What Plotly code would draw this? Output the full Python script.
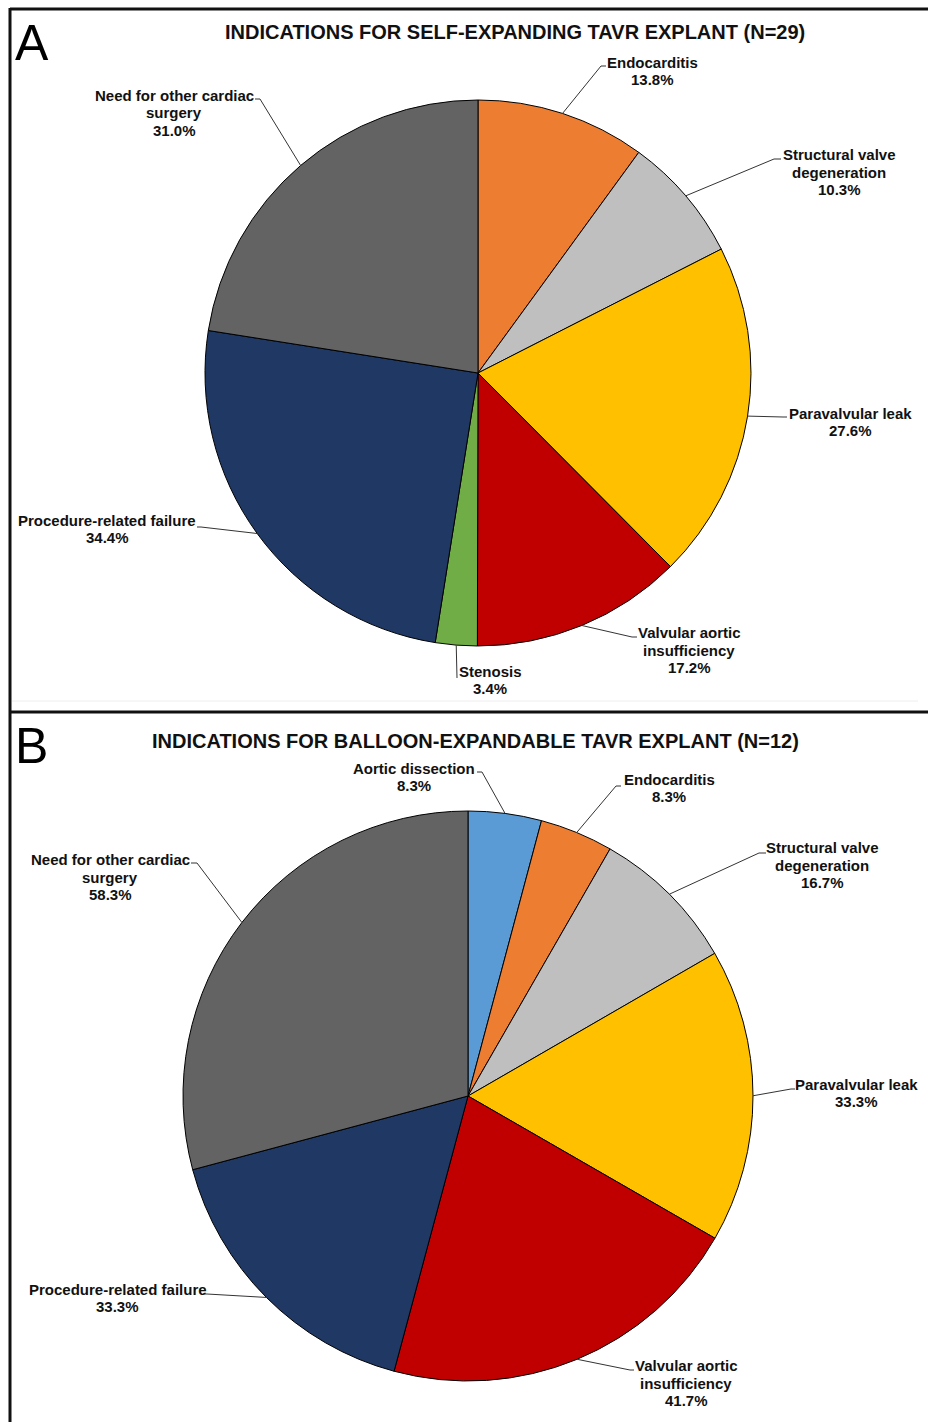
import math
import plotly.graph_objects as go

W, H = 928, 1422

# ---- data -------------------------------------------------------------
self_exp_labels = ["Endocarditis", "Structural valve degeneration", "Paravalvular leak",
                   "Valvular aortic insufficiency", "Stenosis", "Procedure-related failure",
                   "Need for other cardiac surgery"]
self_exp_values = [13.8, 10.3, 27.6, 17.2, 3.4, 34.4, 31.0]

balloon_labels = ["Aortic dissection", "Endocarditis", "Structural valve degeneration",
                  "Paravalvular leak", "Valvular aortic insufficiency",
                  "Procedure-related failure", "Need for other cardiac surgery"]
balloon_values = [8.3, 8.3, 16.7, 33.3, 41.7, 33.3, 58.3]

# ---- styling ----------------------------------------------------------
colors = {
    "Aortic dissection": "#5B9BD5",
    "Endocarditis": "#ED7D31",
    "Structural valve degeneration": "#BFBFBF",
    "Paravalvular leak": "#FFC000",
    "Valvular aortic insufficiency": "#C00000",
    "Stenosis": "#70AD47",
    "Procedure-related failure": "#203864",
    "Need for other cardiac surgery": "#636363",
}
wrapped = {
    "Structural valve degeneration": ["Structural valve", "degeneration"],
    "Valvular aortic insufficiency": ["Valvular aortic", "insufficiency"],
    "Need for other cardiac surgery": ["Need for other cardiac", "surgery"],
}
FONT = "Liberation Sans, Arial, sans-serif"
TXT = "#111111"
LABEL_SIZE = 15
LINE_GAP = 17.3

# label placement (pixels): text block centre, leader elbow, leader stub end
place_a = {
    "Endocarditis": dict(text=(652, 71), elbow=(601, 66), end=(606, 66)),
    "Structural valve degeneration": dict(text=(839, 172), elbow=(774, 159), end=(781, 159)),
    "Paravalvular leak": dict(text=(850, 422), elbow=(783, 417), end=(787, 417)),
    "Valvular aortic insufficiency": dict(text=(689, 650), elbow=(632, 637), end=(637, 637)),
    "Stenosis": dict(text=(490, 680), elbow=(457, 678), end=(457, 678)),
    "Procedure-related failure": dict(text=(107, 529), elbow=(201, 527), end=(197, 527)),
    "Need for other cardiac surgery": dict(text=(174, 113), elbow=(260, 99), end=(255, 99)),
}
place_b = {
    "Aortic dissection": dict(text=(414, 777), elbow=(482, 772), end=(477, 772)),
    "Endocarditis": dict(text=(669, 788), elbow=(616, 786), end=(621, 786)),
    "Structural valve degeneration": dict(text=(822, 865), elbow=(759, 853), end=(766, 853)),
    "Paravalvular leak": dict(text=(856, 1093), elbow=(791, 1089), end=(795, 1089)),
    "Valvular aortic insufficiency": dict(text=(686, 1383), elbow=(630, 1370), end=(634, 1370)),
    "Procedure-related failure": dict(text=(118, 1298), elbow=(207, 1294), end=(203, 1294)),
    "Need for other cardiac surgery": dict(text=(110, 877), elbow=(197, 863), end=(191, 863)),
}

panels = [
    dict(labels=self_exp_labels, values=self_exp_values, center=(478, 373), r=273,
         place=place_a, title="INDICATIONS FOR SELF-EXPANDING TAVR EXPLANT (N=29)",
         title_pos=(515, 32), letter="A", letter_pos=(13, 43)),
    dict(labels=balloon_labels, values=balloon_values, center=(468, 1096), r=285,
         place=place_b, title="INDICATIONS FOR BALLOON-EXPANDABLE TAVR EXPLANT (N=12)",
         title_pos=(475, 741), letter="B", letter_pos=(13, 746)),
]


def px(x):
    return x / W


def py(y):
    return 1 - y / H


fig = go.Figure()
shapes = []
annotations = []

for p in panels:
    cx, cy = p["center"]
    r = p["r"]
    fig.add_trace(go.Pie(
        labels=p["labels"], values=p["values"], sort=False, direction="clockwise",
        rotation=0, textinfo="none", hoverinfo="label+value",
        marker=dict(colors=[colors[l] for l in p["labels"]],
                    line=dict(color="#000000", width=1)),
        domain=dict(x=[px(cx - r), px(cx + r)], y=[py(cy + r), py(cy - r)]),
        showlegend=False,
    ))

    total = sum(p["values"])
    start = 0.0
    for lab, val in zip(p["labels"], p["values"]):
        span = val / total * 360.0
        mid = math.radians(start + span / 2)
        start += span
        ax = cx + r * math.sin(mid)
        ay = cy - r * math.cos(mid)
        pl = p["place"][lab]
        ex, ey = pl["elbow"]
        sx, sy = pl["end"]
        shapes.append(dict(
            type="path", xref="paper", yref="paper",
            path=f"M {px(ax)} {py(ay)} L {px(ex)} {py(ey)} L {px(sx)} {py(sy)}",
            line=dict(color="#333333", width=1),
        ))
        lines = wrapped.get(lab, [lab]) + [f"{val:.1f}%"]
        tx, ty = pl["text"]
        n = len(lines)
        for i, line in enumerate(lines):
            annotations.append(dict(
                x=px(tx), y=py(ty + (i - (n - 1) / 2) * LINE_GAP),
                xref="paper", yref="paper", text=f"<b>{line}</b>",
                showarrow=False, xanchor="center", yanchor="middle",
                font=dict(family=FONT, size=LABEL_SIZE, color=TXT),
            ))

    tx, ty = p["title_pos"]
    annotations.append(dict(
        x=px(tx), y=py(ty), xref="paper", yref="paper", text=f"<b>{p['title']}</b>",
        showarrow=False, xanchor="center", yanchor="middle",
        font=dict(family=FONT, size=20, color=TXT),
    ))
    lx, ly = p["letter_pos"]
    annotations.append(dict(
        x=px(lx), y=py(ly), xref="paper", yref="paper", text=p["letter"],
        showarrow=False, xanchor="left", yanchor="middle",
        font=dict(family=FONT, size=50, color="#000000"),
    ))

# panel frame
frame = [
    ((10, 9), (W, 9), 3),
    ((10, 8), (10, H), 3),
    ((10, 712), (W, 712), 3),
]
for (x0, y0), (x1, y1), w in frame:
    shapes.append(dict(type="line", xref="paper", yref="paper",
                       x0=px(x0), y0=py(y0), x1=px(x1), y1=py(y1),
                       line=dict(color="#111111", width=w)))
shapes.append(dict(type="line", xref="paper", yref="paper",
                   x0=px(12), y0=py(701), x1=px(918), y1=py(701),
                   line=dict(color="#EEEEEE", width=1)))

fig.update_layout(
    width=W, height=H, margin=dict(l=0, r=0, t=0, b=0),
    paper_bgcolor="white", plot_bgcolor="white",
    shapes=shapes, annotations=annotations,
)

fig.write_html("out.html")
